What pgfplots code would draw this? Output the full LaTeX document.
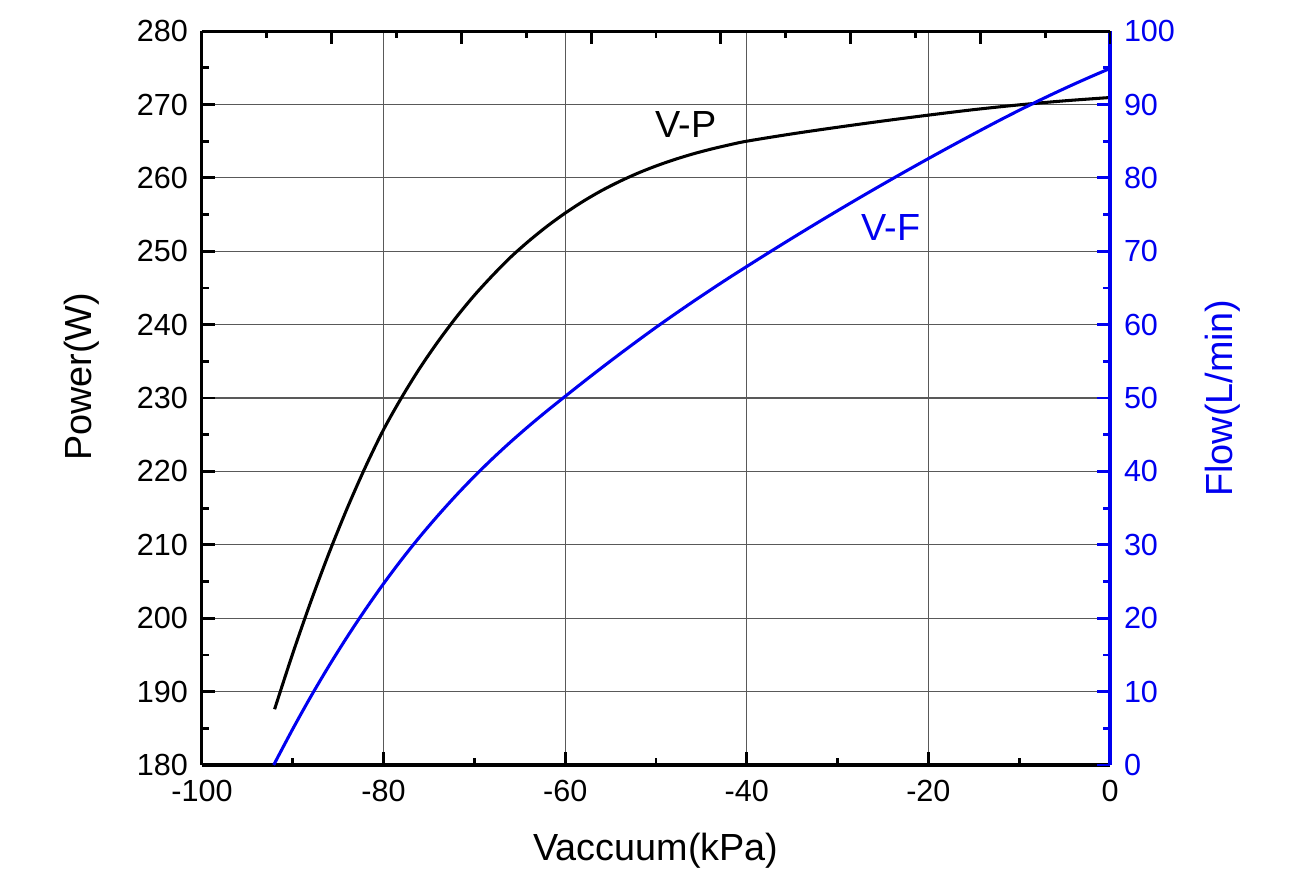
\documentclass[border=0pt]{standalone}
\usepackage{fontspec}
\setmainfont{Liberation Sans}
\usepackage{pgfplots}
\pgfplotsset{compat=1.18}
\definecolor{vblue}{RGB}{0,0,240}
\pgfplotstableread{
x y
-92 187.6
-90 195.2
-88 202.3
-86 208.9
-84 215.0
-82 220.6
-80 225.7
-78 230.1
-76 234.1
-74 237.7
-72 241.0
-70 244.0
-68 246.7
-66 249.2
-64 251.4
-62 253.4
-60 255.2
-58 256.82
-56 258.26
-54 259.52
-52 260.64
-50 261.62
-48 262.48
-46 263.24
-44 263.90
-42 264.48
-40 265.0
-35 266.0
-30 266.9
-25 267.75
-20 268.55
-15 269.3
-10 269.95
-5 270.5
0 270.95
}\vpdata
\pgfplotstableread{
x y
-92.1 0
-90 4.91
-88 9.35
-86 13.53
-84 17.47
-82 21.19
-80 24.71
-78 28.01
-76 31.11
-74 34.01
-72 36.75
-70 39.33
-68 41.75
-66 44.03
-64 46.19
-62 48.25
-60 50.23
-58 52.19
-56 54.11
-54 55.99
-52 57.83
-50 59.63
-48 61.37
-46 63.07
-44 64.73
-42 66.35
-40 67.93
-38 69.49
-36 71.03
-34 72.55
-32 74.05
-30 75.53
-28 76.99
-26 78.43
-24 79.85
-22 81.25
-20 82.63
-18 83.99
-16 85.33
-14 86.65
-12 87.95
-10 89.21
-8 90.43
-6 91.61
-4 92.75
-2 93.85
0 94.91
}\vfdata
\begin{document}
\begin{tikzpicture}
\pgfplotsset{
  common/.style={
    width=326.9pt, height=264.2pt, scale only axis,
    xmin=-100, xmax=0,
    tick align=inside,
    major tick length=4.8pt, minor tick length=2.5pt,
    every tick/.style={line width=1pt},
    axis line style={line width=1.1pt},
    tick label style={font=\fontsize{11}{13}\selectfont},
    label style={font=\fontsize{13.6}{16}\selectfont},
    /pgf/number format/assume math mode=true,
  }
}
\begin{axis}[common,
  ymin=180, ymax=280,
  axis x line*=bottom, axis y line*=left,
  tick align=inside,
  xtick distance=20, ytick distance=10,
  minor x tick num=1, minor y tick num=1,
  grid=major,
  major grid style={line width=0.4pt, black!65},
  xlabel={Vaccuum(kPa)}, ylabel={Power(W)},
  xlabel style={at={(axis description cs:0.5,-0.117)}, anchor=center},
  ylabel style={at={(axis description cs:-0.132,0.529)}, anchor=center},
  yticklabel style={xshift=-1.5pt},
  xticklabel style={yshift=-2pt},
]
\addplot[black, line width=1.1pt, smooth] table[x=x,y=y]{\vpdata};
\node[font=\fontsize{13.6}{16}\selectfont] at (axis cs:-46.7,267.3) {V-P};
\end{axis}
\begin{axis}[common,
  ymin=0, ymax=100,
  axis x line=none, axis y line*=right,
  tick align=inside,
  ytick distance=10, minor y tick num=1,
  axis line style={line width=1.1pt, vblue},
  every tick/.style={line width=1pt, vblue},
  yticklabel style={vblue, xshift=1.5pt},
  ylabel={Flow(L/min)},
  ylabel style={vblue, at={(axis description cs:1.1245,0.5)}, anchor=center},
]
\addplot[vblue, line width=1.1pt, smooth] table[x=x,y=y]{\vfdata};
\node[font=\fontsize{13.6}{16}\selectfont, text=vblue] at (axis cs:-24.1,73.3) {V-F};
\end{axis}
\begin{axis}[common,
  xmin=0, xmax=7, ymin=0, ymax=1,
  axis x line*=top, axis y line=none,
  tick align=inside,
  xtick={0,1,...,7}, minor x tick num=1,
  xticklabels={},
]
\end{axis}
\pgfresetboundingbox
\path (-72.7pt,-45.4pt) rectangle (397.1pt,275.4pt);
\end{tikzpicture}
\end{document}
